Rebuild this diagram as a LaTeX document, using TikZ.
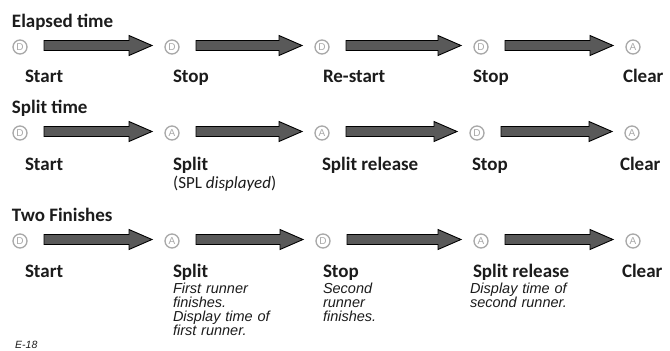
\documentclass[tikz,border=0pt]{standalone}
\usepackage{fontspec}
\setmainfont{Carlito}
\newfontfamily\descfont{Liberation Sans}
\usetikzlibrary{calc}
\definecolor{arrowgray}{HTML}{595959}
\definecolor{ringgray}{HTML}{A8A8A8}
\definecolor{inkc}{HTML}{1C1C1C}
\tikzset{
  lbl/.style={anchor=base west, inner sep=0pt, outer sep=0pt, text=inkc,
    font=\fontsize{19}{22}\selectfont\bfseries},
  ttl/.style={lbl},
  desc/.style={anchor=base west, inner sep=0pt, outer sep=0pt, text=inkc,
    text width=150pt, align=left,
    font=\descfont\itshape\fontsize{14.5}{14.2}\selectfont},
  ring/.style={circle, draw=ringgray, line width=1.3pt, minimum size=14pt,
    inner sep=0pt, outer sep=0pt, text=ringgray,
    font=\descfont\fontsize{10}{10}\selectfont},
  blk/.style={draw=black, line width=0.9pt, fill=arrowgray, line join=miter,
    to path={let \p1=(\tikztostart.east), \p2=(\tikztotarget.west) in
      (\x1+17pt,\y1+6.5pt) -- (\x2-36pt,\y1+6.5pt) -- (\x2-36pt,\y1+11.5pt)
      -- (\x2-13pt,\y1+1.5pt) -- (\x2-36pt,\y1-8.5pt) -- (\x2-36pt,\y1-3.5pt)
      -- (\x1+17pt,\y1-3.5pt) -- cycle}}
}
\begin{document}
\begin{tikzpicture}[x=1pt,y=-1pt]
\useasboundingbox (0,0) rectangle (670,351);
\fill[white] (0,0) rectangle (670,351);

% ---------- Elapsed time ----------
\node[ttl] (t1) at (12,27) {Elapsed time};
\node[ring] (a1) at (20,47) {D};
\node[ring] (a2) at (172,47) {D};
\node[ring] (a3) at (322,47) {D};
\node[ring] (a4) at (481,47) {D};
\node[ring] (a5) at (633,47) {A};
\draw[blk] (a1) to (a2);
\draw[blk] (a2) to (a3);
\draw[blk] (a3) to (a4);
\draw[blk] (a4) to (a5);
\node[lbl] (la1) at (25,82) {Start};
\node[lbl] (la2) at (173,82) {Stop};
\node[lbl] (la3) at (323,82) {Re-start};
\node[lbl] (la4) at (473,82) {Stop};
\node[lbl] (la5) at (623,82) {Clear};

% ---------- Split time ----------
\node[ttl] (t2) at (12,113) {Split time};
\node[ring] (b1) at (20,133) {D};
\node[ring] (b2) at (172,133) {A};
\node[ring] (b3) at (322,133) {A};
\node[ring] (b4) at (477,133) {D};
\node[ring] (b5) at (632,133) {A};
\draw[blk] (b1) to (b2);
\draw[blk] (b2) to (b3);
\draw[blk] (b3) to (b4);
\draw[blk] (b4) to (b5);
\node[lbl] (lb1) at (25,170) {Start};
\node[lbl] (lb2) at (173,170) {Split};
\node[anchor=base west, inner sep=0pt, text=inkc,
  font=\fontsize{17}{19}\selectfont] (lb2d) at (173,188) {(SPL \textit{displayed})};
\node[lbl] (lb3) at (322,170) {Split release};
\node[lbl] (lb4) at (472,170) {Stop};
\node[lbl] (lb5) at (620,170) {Clear};

% ---------- Two Finishes ----------
\node[ttl] (t3) at (12,221) {Two Finishes};
\node[ring] (c1) at (20,241) {D};
\node[ring] (c2) at (172,241) {A};
\node[ring] (c3) at (323,241) {D};
\node[ring] (c4) at (481,241) {A};
\node[ring] (c5) at (633,241) {A};
\draw[blk] (c1) to (c2);
\draw[blk] (c2) to (c3);
\draw[blk] (c3) to (c4);
\draw[blk] (c4) to (c5);
\node[lbl] (lc1) at (25,277) {Start};
\node[lbl] (lc2) at (173,277) {Split};
\node[lbl] (lc3) at (323,277) {Stop};
\node[lbl] (lc4) at (473,277) {Split release};
\node[lbl] (lc5) at (622,277) {Clear};
\node[desc] (dc2) at (173,293) {First runner\\finishes.\\Display time of\\first runner.};
\node[desc] (dc3) at (323,293) {Second\\runner\\finishes.};
\node[desc] (dc4) at (470,293) {Display time of\\second runner.};

\node[anchor=base west, inner sep=0pt, text=inkc,
  font=\descfont\itshape\fontsize{10.5}{12}\selectfont] (pg) at (15,348) {E-18};
\end{tikzpicture}
\end{document}
